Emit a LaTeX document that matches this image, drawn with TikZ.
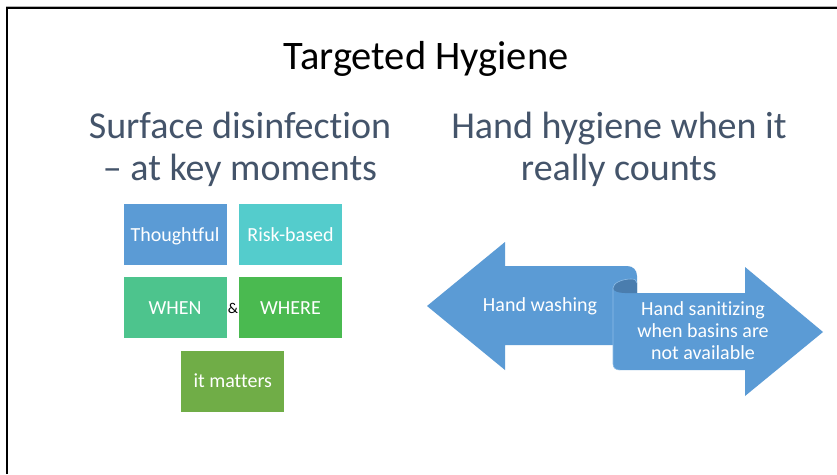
\documentclass[tikz,border=0pt]{standalone}
\usepackage{fontspec}
\setmainfont{Carlito}[Ligatures={NoCommon,NoRequired,NoContextual}]
\definecolor{slate}{HTML}{44546A}
\definecolor{tileA}{HTML}{5B9BD5}
\definecolor{tileB}{HTML}{54CCCC}
\definecolor{tileC}{HTML}{4DC48D}
\definecolor{tileD}{HTML}{4ABA50}
\definecolor{tileE}{HTML}{70AD47}
\definecolor{ribbonblue}{HTML}{5B9BD5}
\definecolor{folddark}{HTML}{4A7DAE}
\definecolor{foldedge}{HTML}{8DBCE6}
\begin{document}
\begin{tikzpicture}[x=1pt,y=-1pt,
  tile/.style={minimum width=104pt, minimum height=62pt, inner sep=0pt,
    draw=white, line width=0.8pt, text=white,
    font=\fontsize{20}{24}\selectfont, text height=13pt, text depth=0pt},
  ribbon/.style={fill=ribbonblue},
  fold/.style={fill=folddark},
  edge/.style={draw=foldedge, line width=0.6pt},
  ribbontext/.style={anchor=base, text=white, inner sep=0pt, font=\fontsize{20}{22}\selectfont},
  subtitle/.style={anchor=base, text=slate, inner sep=0pt, font=\fontsize{38}{42.4}\selectfont}]
\useasboundingbox (0,0) rectangle (837,474);
\fill[white] (0,0) rectangle (837,474);

% slide frame (top and left edges)
\draw[gray!60, line width=1pt] (6,6.5) -- (837,6.5);
\draw[black, line width=2pt] (7,474) -- (7,8) -- (837,8);

% headings
\node[anchor=base, inner sep=0pt, font=\fontsize{40.5}{48}\selectfont] (title) at (426,69.3) {Targeted Hygiene};
\node[subtitle] (left) at (240,138.3)
  {\begin{tabular}[t]{@{}c@{}}Surface disinfection\\– at key moments\end{tabular}};
\node[subtitle] (right) at (619,138.3)
  {\begin{tabular}[t]{@{}c@{}}Hand hygiene when it\\really counts\end{tabular}};

% tiles
\node[tile, fill=tileA] (thoughtful) at (175,234.8) {Thoughtful};
\node[tile, fill=tileB] (risk) at (290.5,234.8) {Risk-based};
\node[tile, fill=tileC] (when) at (175,307.5) {WHEN};
\node[tile, fill=tileD] (where) at (290.5,307.5) {WHERE};
\node[tile, fill=tileE] (matters) at (232.8,381.3) {it matters};
\node[anchor=base, inner sep=0pt, font=\fontsize{15}{18}\selectfont] (amp) at (233,313) {\&};

% left-right ribbon: left band with arrowhead
\fill[ribbon] (427,306) -- (505,242) -- (505,266) -- (627,266)
  .. controls (633,266) and (637,270) .. (637,276) -- (637,300)
  -- (613,300) -- (613,345) -- (505,345) -- (505,370) -- cycle;
% right band with arrowhead
\fill[ribbon] (613,288) -- (613,364) .. controls (613,368) and (616,370) .. (620,370)
  -- (745,370) -- (745,396) -- (823,332) -- (745,267) -- (745,293) -- (625,293)
  .. controls (618,293) and (613,291) .. (613,288) -- cycle;
% folded-back part of the curl
\fill[fold] (613,288) .. controls (613,283) and (622,279) .. (631,279)
  .. controls (634.5,279) and (637,280) .. (637,283) -- (637,293) -- (625,293)
  .. controls (618,293) and (613,291) .. (613,288) -- cycle;
\draw[edge] (620,370) .. controls (616,370) and (613,368) .. (613,364) -- (613,288)
  .. controls (613,283) and (622,279) .. (631,279)
  .. controls (634.5,279) and (637,280) .. (637,283);

\node[ribbontext] (wash) at (540,311.7) {Hand washing};
\node[ribbontext] (sanit) at (703,315)
  {\begin{tabular}[t]{@{}c@{}}Hand sanitizing\\when basins are\\not available\end{tabular}};
\end{tikzpicture}
\end{document}
